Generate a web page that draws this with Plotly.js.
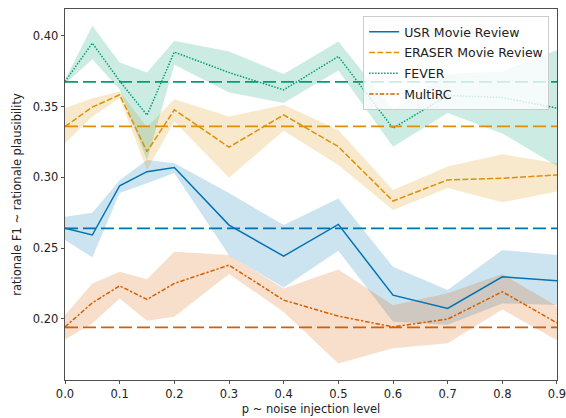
<!DOCTYPE html>
<html>
<head>
<meta charset="utf-8">
<script src="https://cdn.plot.ly/plotly-3.0.1.min.js"></script>
<style>html,body{margin:0;padding:0;background:#fff;}#chart{width:566px;height:418px;}</style>
</head>
<body>
<div id="chart"></div>
<script>
// Data
const noiseLevels = [0, 0.05, 0.1, 0.15, 0.2, 0.3, 0.4, 0.5, 0.6, 0.7, 0.8, 0.9];

const usrMean = [0.264, 0.2593, 0.2941, 0.304, 0.3069, 0.2663, 0.2444, 0.2668, 0.2168, 0.2074, 0.2298, 0.2270];
const usrLow  = [0.2557, 0.2435, 0.289, 0.2958, 0.303, 0.245, 0.2223, 0.2482, 0.198, 0.196, 0.211, 0.2098];
const usrHigh = [0.2722, 0.275, 0.298, 0.3123, 0.310, 0.289, 0.2663, 0.285, 0.2368, 0.2204, 0.2487, 0.2451];

const eraserMean = [0.3359, 0.3496, 0.3583, 0.3182, 0.3477, 0.3213, 0.3441, 0.3217, 0.2833, 0.2982, 0.2994, 0.3017];
const eraserLow  = [0.3241, 0.343, 0.356, 0.3052, 0.3394, 0.2998, 0.333, 0.3088, 0.277, 0.2925, 0.2824, 0.29];
const eraserHigh = [0.3489, 0.3559, 0.3606, 0.3356, 0.3552, 0.343, 0.3512, 0.3335, 0.291, 0.3076, 0.3163, 0.31];

const feverMean = [0.3677, 0.3948, 0.368, 0.344, 0.3885, 0.374, 0.3618, 0.3854, 0.3347, 0.3578, 0.3564, 0.3489];
const feverLow  = [0.366, 0.3835, 0.362, 0.312, 0.3795, 0.360, 0.3526, 0.3755, 0.3217, 0.3455, 0.331, 0.308];
const feverHigh = [0.369, 0.4071, 0.3811, 0.374, 0.3965, 0.3889, 0.373, 0.396, 0.3477, 0.373, 0.3748, 0.390];

const multircMean = [0.1944, 0.2114, 0.2234, 0.2138, 0.2251, 0.238, 0.2133, 0.202, 0.1944, 0.1999, 0.2192, 0.1972];
const multircLow  = [0.1855, 0.1968, 0.2145, 0.1987, 0.2015, 0.2317, 0.205, 0.1685, 0.1794, 0.1829, 0.2067, 0.185];
const multircHigh = [0.2027, 0.2251, 0.2333, 0.2281, 0.2475, 0.2451, 0.2216, 0.235, 0.2097, 0.2182, 0.2317, 0.209];

const seriesNames = ["USR Movie Review", "ERASER Movie Review", "FEVER", "MultiRC"];
const baselines = [0.264, 0.336, 0.3675, 0.194];

const xTickVals = [0, 0.1, 0.2, 0.3, 0.4, 0.5, 0.6, 0.7, 0.8, 0.9];
const yTickVals = [0.20, 0.25, 0.30, 0.35, 0.40];

// Styles
const colors = ["#0173B2", "#DE8F05", "#029E73", "#D55E00"];
const fills = ["rgba(1,115,178,0.2)", "rgba(222,143,5,0.2)", "rgba(2,158,115,0.2)", "rgba(213,94,0,0.2)"];
const dashes = ["solid", "6px,2.25px", "1.5px,1.5px", "4.5px,1.9px,2.25px,1.9px"];

const means = [usrMean, eraserMean, feverMean, multircMean];
const lows = [usrLow, eraserLow, feverLow, multircLow];
const highs = [usrHigh, eraserHigh, feverHigh, multircHigh];

const traces = [];
for (let i = 0; i < 4; i++) {
  traces.push({
    x: noiseLevels.concat(noiseLevels.slice().reverse()),
    y: highs[i].concat(lows[i].slice().reverse()),
    type: "scatter", mode: "lines", fill: "toself",
    fillcolor: fills[i], line: {width: 0, color: "rgba(0,0,0,0)"},
    showlegend: false, hoverinfo: "skip"
  });
}
for (let i = 0; i < 4; i++) {
  traces.push({
    x: noiseLevels, y: means[i], type: "scatter", mode: "lines",
    name: seriesNames[i], legendgroup: "g" + i,
    line: {color: colors[i], width: 1.5, dash: dashes[i]}
  });
}
for (let i = 0; i < 4; i++) {
  const x0 = noiseLevels[0], x1 = noiseLevels[noiseLevels.length - 1];
  traces.push({
    x: [x0, x1], y: [baselines[i], baselines[i]], type: "scatter", mode: "lines",
    showlegend: false, hoverinfo: "skip",
    line: {color: colors[i], width: 1.8, dash: "13px,5px"}
  });
}

const fontFam = "DejaVu Sans, sans-serif";
const layout = {
  width: 566, height: 418,
  margin: {l: 65, r: 9, t: 9, b: 38},
  paper_bgcolor: "#ffffff", plot_bgcolor: "#ffffff",
  font: {family: fontFam, size: 11.5, color: "#222"},
  xaxis: {
    range: [0, 0.90001], tickvals: xTickVals, tickformat: ".1f", ticklabeloverflow: "allow",
    showgrid: false, zeroline: false, showline: true, mirror: true,
    linecolor: "#222", linewidth: 0.8, ticks: "outside", ticklen: 3.5, tickwidth: 0.8, tickcolor: "#222",
    title: {text: "p ~ noise injection level", font: {size: 11.5}, standoff: 4},
    automargin: false
  },
  yaxis: {
    range: [0.1569, 0.4189], tickvals: yTickVals, tickformat: ".2f",
    showgrid: false, zeroline: false, showline: true, mirror: true,
    linecolor: "#222", linewidth: 0.8, ticks: "outside", ticklen: 3.5, tickwidth: 0.8, tickcolor: "#222",
    title: {text: "rationale F1 ~ rationale plausibility", font: {size: 11.5}, standoff: 8},
    automargin: false
  },
  legend: {
    x: 0.984, y: 0.981, xanchor: "right", yanchor: "top",
    bgcolor: "rgba(255,255,255,0.8)", bordercolor: "#cccccc", borderwidth: 1,
    font: {size: 12.5, family: fontFam, color: "#222"},
    tracegroupgap: 1.5
  },
  showlegend: true
};

Plotly.newPlot("chart", traces, layout, {displayModeBar: false, staticPlot: true});
</script>
</body>
</html>
